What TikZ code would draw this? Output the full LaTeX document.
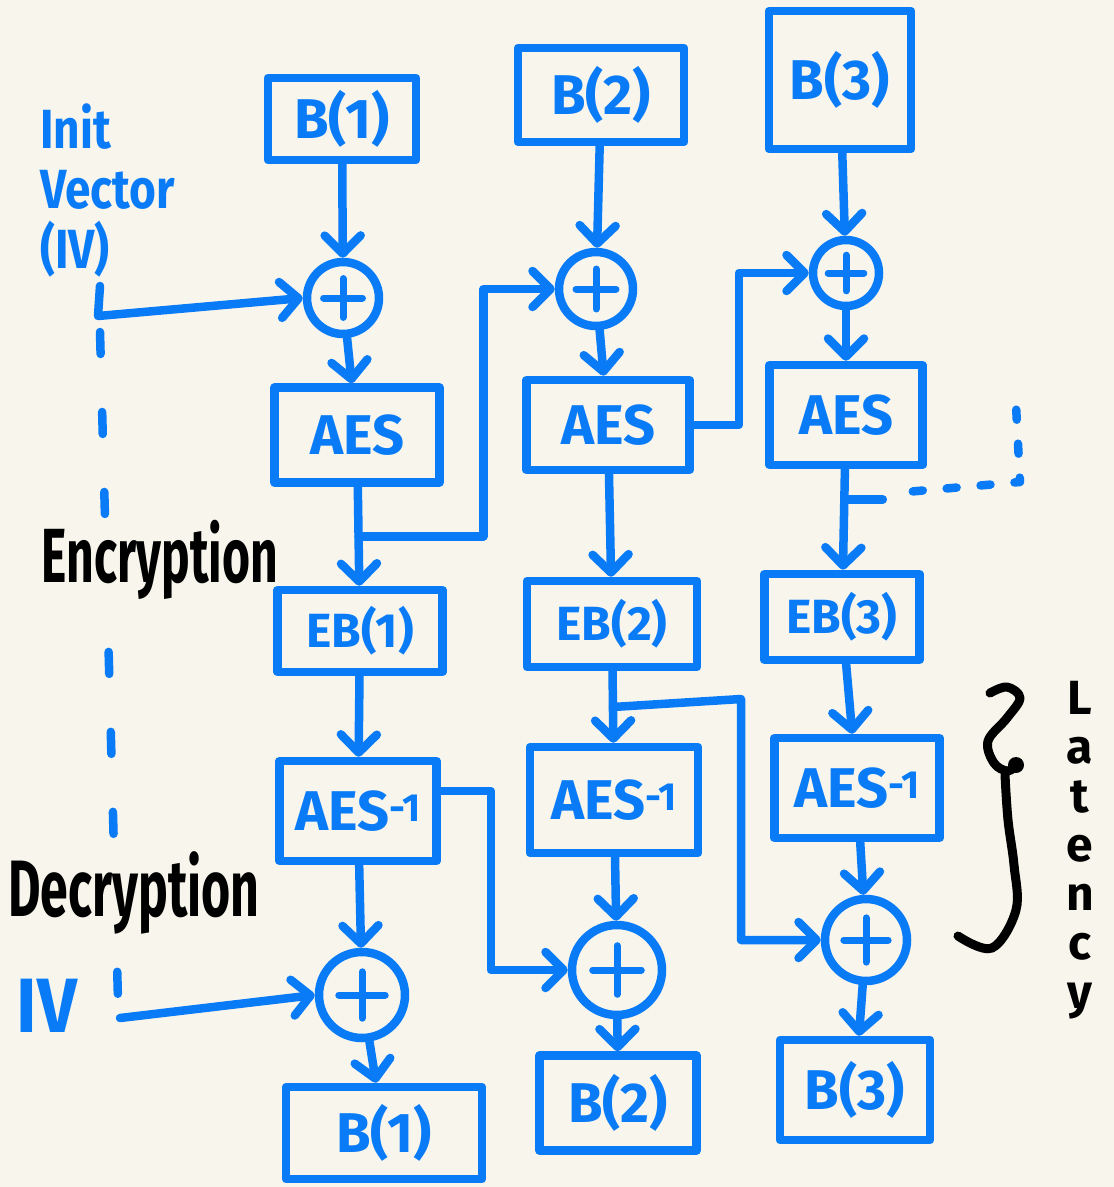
\documentclass[tikz,border=0pt]{standalone}
\usepackage{fontspec}
\setmainfont{Fira Sans}
\usetikzlibrary{arrows.meta,calc}
\definecolor{paper}{HTML}{F8F6EC}
\definecolor{ink}{HTML}{0A7BF7}
\tikzset{
  hand/.style={line width=8.5pt, line cap=round, line join=round, draw=ink},
  blk/.style={hand, rectangle, inner sep=0pt, text=ink,
    font=\fontsize{56}{60}\selectfont\bfseries},
  ebk/.style={blk, font=\fontsize{48}{52}\selectfont\bfseries},
  xorc/.style={hand, circle, inner sep=0pt, minimum size=#1,
    path picture={\draw[ink, line width=7pt, line cap=round]
      ([xshift=-0.27*#1]path picture bounding box.center) --
      ([xshift=0.27*#1]path picture bounding box.center)
      ([yshift=-0.27*#1]path picture bounding box.center) --
      ([yshift=0.27*#1]path picture bounding box.center);}},
  arr/.style={hand, -{Straight Barb[length=18pt,width=36pt,round]}},
  bluelbl/.style={text=ink, inner sep=2pt, fill=paper},
  blacklbl/.style={text=black, inner sep=2pt, fill=paper},
}
\newcommand{\inv}{\textsuperscript{-1}}
\newcommand{\tall}[1]{\scalebox{1}[1.2]{#1}}
\begin{document}
\begin{tikzpicture}[x=1pt,y=-1pt]
\fill[paper] (0,0) rectangle (1114,1187);
\useasboundingbox (0,0) rectangle (1114,1187);

% separator between the side labels and the chains
\draw[hand, dash pattern=on 22pt off 58pt] (100,332) -- (118,1000);

% side labels
\node[bluelbl, align=left, anchor=north west,
  font=\fontsize{46}{60}\selectfont\bfseries] (ivlbl) at (38,102)
  {\tall{Init}\\\tall{Vector}\\\tall{(IV)}};
\node[blacklbl, font=\fontsize{48}{50}\selectfont\bfseries] (enc) at (160,560)
  {\scalebox{1}[1.6]{Encryption}};
\node[blacklbl, font=\fontsize{50}{52}\selectfont\bfseries] (dec) at (134,893)
  {\scalebox{1}[1.6]{Decryption}};
\node[bluelbl, font=\fontsize{70}{72}\selectfont\bfseries] (ivlbl2) at (47,1006)
  {\scalebox{1}[1.1]{IV}};

% column 1
\node[blk, minimum width=148, minimum height=82] (b1) at (342,119) {B(1)};
\node[xorc=72] (x1) at (343,298) {};
\node[blk, minimum width=165, minimum height=95] (aes1) at (357,435) {AES};
\node[ebk, minimum width=165, minimum height=82] (eb1) at (360,631) {EB(1)};
\node[blk, minimum width=157, minimum height=100] (dec1) at (358,811) {AES\inv};
\node[xorc=86] (y1) at (362,995) {};
\node[blk, minimum width=196, minimum height=92] (o1) at (384,1133) {B(1)};

% column 2
\node[blk, minimum width=166, minimum height=94] (b2) at (601,95) {B(2)};
\node[xorc=74] (x2) at (596,289) {};
\node[blk, minimum width=163, minimum height=90] (aes2) at (608,425) {AES};
\node[ebk, minimum width=170, minimum height=86] (eb2) at (612,624) {EB(2)};
\node[blk, minimum width=168, minimum height=106] (dec2) at (614,800) {AES\inv};
\node[xorc=90] (y2) at (617,970) {};
\node[blk, minimum width=157, minimum height=95] (o2) at (618,1103) {B(2)};

% column 3
\node[blk, minimum width=142, minimum height=138] (b3) at (840,80) {B(3)};
\node[xorc=66] (x3) at (846,273) {};
\node[blk, minimum width=153, minimum height=100] (aes3) at (846,415) {AES};
\node[ebk, minimum width=155, minimum height=86] (eb3) at (842,617) {EB(3)};
\node[blk, minimum width=165, minimum height=100] (dec3) at (857,788) {AES\inv};
\node[xorc=82] (y3) at (866,940) {};
\node[blk, minimum width=150, minimum height=100] (o3) at (855,1090) {B(3)};

% initialisation vector inputs
\coordinate (iva) at (100,286);
\coordinate (ivb) at (98,316);
\draw[arr] (iva) -- (ivb) -- (x1.west);
\coordinate (ivc) at (120,1018);
\draw[arr] (ivc) -- (y1.west);

% encryption chain
\draw[arr] (b1) -- (x1);
\draw[arr] (x1) -- (aes1);
\draw[arr] (aes1) -- (eb1);
\draw[arr] (b2) -- (x2);
\draw[arr] (x2) -- (aes2);
\draw[arr] (aes2) -- (eb2);
\draw[arr] (b3) -- (x3);
\draw[arr] (x3) -- (aes3);
\draw[arr] (aes3) -- (eb3);

\coordinate (j1) at ($(aes1.south)!0.5!(eb1.north)$);
\draw[arr] (j1) -- ++(125,0) |- (x2.west);
\draw[arr] (aes2.east) -- ++(45,0) |- (x3.west);

\coordinate (j3) at ($(aes3.south)!0.3!(eb3.north)$);
\draw[hand] (j3) -- ++(38,0) coordinate (j3e);
\coordinate (more) at (1015,386);
\draw[hand, dash pattern=on 10pt off 24pt] ($(j3e)+(30,-8)$) -- (1020,482) -- (more);

% decryption chain
\draw[arr] (eb1) -- (dec1);
\draw[arr] (dec1) -- (y1);
\draw[arr] (y1) -- (o1);
\draw[arr] (eb2) -- (dec2);
\draw[arr] (dec2) -- (y2);
\draw[arr] (y2) -- (o2);
\draw[arr] (eb3) -- (dec3);
\draw[arr] (dec3) -- (y3);
\draw[arr] (y3) -- (o3);

\draw[arr] ($(dec1.east)+(0,-20)$) -- ++(50,0) |- (y2.west);
\coordinate (j2) at ($(eb2.south)!0.5!(dec2.north)$);
\draw[arr] (j2) -- ++(128,-8) |- (y3.west);

% latency brace and label
\draw[line width=9pt, line cap=round, line join=round, black]
  plot[smooth, tension=0.6] coordinates {(990,693) (1007,687) (1020,698) (1007,718)
    (988,741) (994,763) (1008,771) (1018,763)};
\draw[line width=9pt, line cap=round, black]
  plot[smooth, tension=0.6] coordinates {(1005,775) (1008,820) (1014,865) (1016,910)
    (992,948) (958,936)};
\fill[black] (1016,765) circle (8);
\node[text=black, align=center, inner sep=0pt,
  font=\fontsize{48}{49}\selectfont\bfseries] (lat) at (1080,850)
  {L\\a\\t\\e\\n\\c\\y};
\end{tikzpicture}
\end{document}
